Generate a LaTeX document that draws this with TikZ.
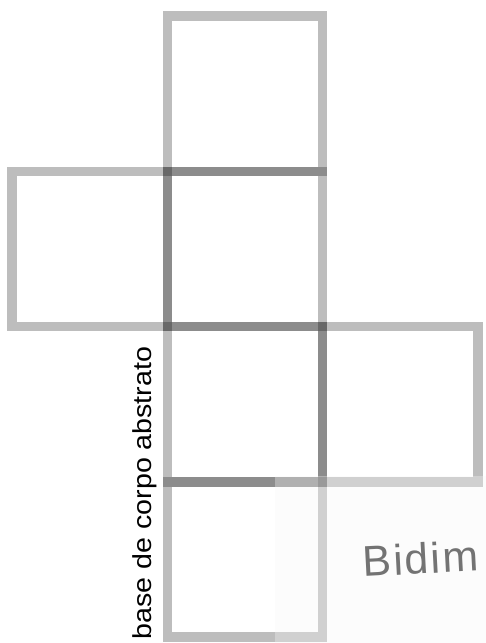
\documentclass[tikz,border=0pt]{standalone}
\usepackage{fontspec}
\newfontfamily\labelfont[FakeStretch=1.1]{Liberation Sans}
\newfontfamily\handfont[LetterSpace=5]{Liberation Sans}

\begin{document}
\begin{tikzpicture}[x=1pt, y=-1pt,
  face/.style={draw=black, draw opacity=0.26, line width=9.5pt}]
  \useasboundingbox (0,0) rectangle (486,643);
  \foreach \c/\r in {1/0, 0/1, 1/1, 1/2, 2/2, 1/3}
    \draw[face] ({12+155.3*\c},{16+155.3*\r}) rectangle ++(155.3,155.3);
  \node[rotate=90, font=\labelfont\fontsize{26}{26}\selectfont] (label) at (145,493) {base de corpo abstrato};
  % scanned scrap of paper
  \fill[black!4, opacity=0.35] (275,476) rectangle (486,643);
  \node[anchor=base west, rotate=3, text=black!55, font=\handfont\fontsize{43}{43}\selectfont] (bidim) at (360,577) {Bidim};
\end{tikzpicture}
\end{document}
